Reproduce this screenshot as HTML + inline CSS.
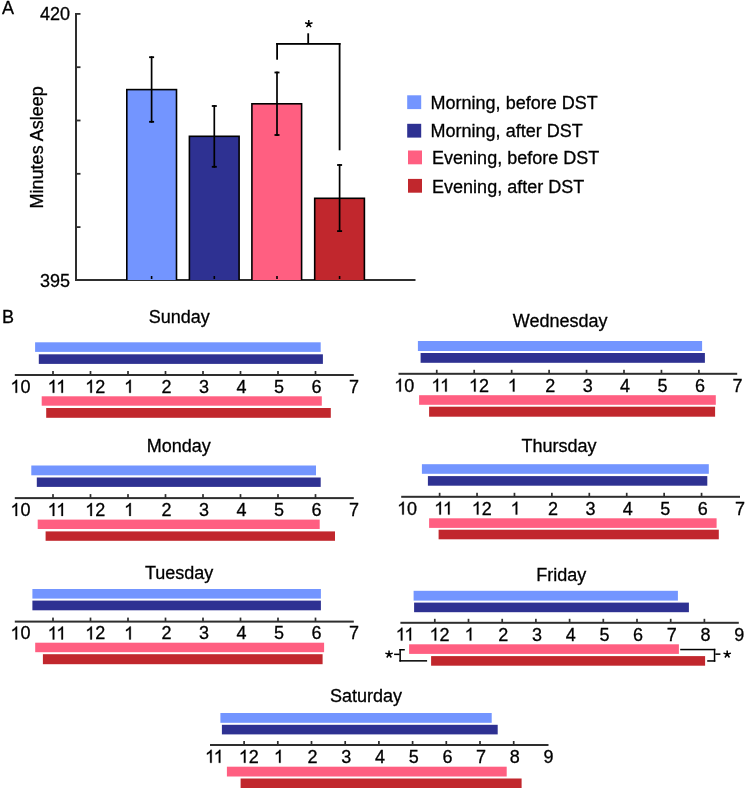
<!DOCTYPE html>
<html><head><meta charset="utf-8"><title>Sleep DST figure</title>
<style>html,body{margin:0;padding:0;background:#fff;}svg{display:block;will-change:transform;}text{stroke:#000;stroke-width:0.3px;}</style></head>
<body>
<svg width="746" height="790" viewBox="0 0 746 790" font-family="Liberation Sans, sans-serif" font-size="18" fill="#000">
<rect x="0" y="0" width="746" height="790" fill="#fff"/>
<text x="2.00" y="14.00">A</text>
<text x="40.00" y="20.00">420</text>
<text x="40.00" y="286.90">395</text>
<text transform="translate(43.1,208.4) rotate(-90)">Minutes Asleep</text>
<rect x="75.00" y="13.00" width="2.00" height="268.00" fill="#2E2E2E"/>
<rect x="75.00" y="13.00" width="5.50" height="1.80" fill="#2E2E2E"/>
<rect x="75.00" y="66.30" width="5.50" height="1.80" fill="#2E2E2E"/>
<rect x="75.00" y="119.60" width="5.50" height="1.80" fill="#2E2E2E"/>
<rect x="75.00" y="172.90" width="5.50" height="1.80" fill="#2E2E2E"/>
<rect x="75.00" y="226.20" width="5.50" height="1.80" fill="#2E2E2E"/>
<rect x="75.00" y="279.00" width="340.50" height="2.00" fill="#2E2E2E"/>
<rect x="126.00" y="88.80" width="51.30" height="191.20" fill="#000"/>
<rect x="127.60" y="90.40" width="48.10" height="189.60" fill="#7395FF"/>
<rect x="150.80" y="276.00" width="1.60" height="3.00" fill="#000"/>
<rect x="150.75" y="56.30" width="1.70" height="66.40" fill="#000"/>
<rect x="149.10" y="56.30" width="5.00" height="1.80" fill="#000"/>
<rect x="149.10" y="120.90" width="5.00" height="1.80" fill="#000"/>
<rect x="188.60" y="135.50" width="51.30" height="144.50" fill="#000"/>
<rect x="190.20" y="137.10" width="48.10" height="142.90" fill="#2E3192"/>
<rect x="213.50" y="276.00" width="1.60" height="3.00" fill="#000"/>
<rect x="213.45" y="105.10" width="1.70" height="62.60" fill="#000"/>
<rect x="211.80" y="105.10" width="5.00" height="1.80" fill="#000"/>
<rect x="211.80" y="165.90" width="5.00" height="1.80" fill="#000"/>
<rect x="251.10" y="103.00" width="51.30" height="177.00" fill="#000"/>
<rect x="252.70" y="104.60" width="48.10" height="175.40" fill="#FF5F81"/>
<rect x="276.20" y="276.00" width="1.60" height="3.00" fill="#000"/>
<rect x="276.15" y="71.60" width="1.70" height="64.30" fill="#000"/>
<rect x="274.50" y="71.60" width="5.00" height="1.80" fill="#000"/>
<rect x="274.50" y="134.10" width="5.00" height="1.80" fill="#000"/>
<rect x="313.90" y="197.50" width="51.30" height="82.50" fill="#000"/>
<rect x="315.50" y="199.10" width="48.10" height="80.90" fill="#C1272D"/>
<rect x="338.80" y="276.00" width="1.60" height="3.00" fill="#000"/>
<rect x="338.75" y="164.10" width="1.70" height="67.90" fill="#000"/>
<rect x="337.10" y="164.10" width="5.00" height="1.80" fill="#000"/>
<rect x="337.10" y="230.20" width="5.00" height="1.80" fill="#000"/>
<rect x="276.20" y="43.00" width="64.30" height="1.80" fill="#000"/>
<rect x="276.20" y="43.00" width="1.80" height="16.70" fill="#000"/>
<rect x="338.70" y="43.00" width="1.80" height="107.30" fill="#000"/>
<rect x="307.30" y="33.30" width="1.80" height="10.00" fill="#000"/>
<path d="M308.80 24.00L308.80 20.10M308.80 24.00L312.51 22.79M308.80 24.00L311.09 27.16M308.80 24.00L306.51 27.16M308.80 24.00L305.09 22.79" stroke="#000" stroke-width="1.5" fill="none"/>
<rect x="407.20" y="95.30" width="14.00" height="13.80" fill="#7395FF"/>
<text x="430.60" y="109.00">Morning, before DST</text>
<rect x="407.20" y="123.80" width="14.00" height="13.80" fill="#2E3192"/>
<text x="430.60" y="136.60">Morning, after DST</text>
<rect x="408.00" y="150.50" width="14.00" height="13.80" fill="#FF5F81"/>
<text x="432.10" y="164.10">Evening, before DST</text>
<rect x="408.00" y="178.90" width="14.00" height="13.80" fill="#C1272D"/>
<text x="432.10" y="192.60">Evening, after DST</text>
<text x="2.00" y="322.80">B</text>
<text x="148.70" y="323.10">Sunday</text>
<rect x="14.80" y="374.00" width="339.00" height="2.00" fill="#2E2E2E"/>
<rect x="52.15" y="371.00" width="1.70" height="4.00" fill="#2E2E2E"/>
<rect x="89.65" y="371.00" width="1.70" height="4.00" fill="#2E2E2E"/>
<rect x="127.15" y="371.00" width="1.70" height="4.00" fill="#2E2E2E"/>
<rect x="164.65" y="371.00" width="1.70" height="4.00" fill="#2E2E2E"/>
<rect x="202.15" y="371.00" width="1.70" height="4.00" fill="#2E2E2E"/>
<rect x="239.65" y="371.00" width="1.70" height="4.00" fill="#2E2E2E"/>
<rect x="277.15" y="371.00" width="1.70" height="4.00" fill="#2E2E2E"/>
<rect x="314.65" y="371.00" width="1.70" height="4.00" fill="#2E2E2E"/>
<path transform="translate(10.40,392.80) scale(0.008789,-0.008789)" stroke="#000" stroke-width="34.1" d="M763 0L583 0L583 1147Q518 1085 412 1023Q306 961 222 930L222 1104Q373 1175 486 1276Q599 1377 646 1472L763 1472Z"/>
<text x="20.41" y="392.80">0</text>
<path transform="translate(47.60,392.80) scale(0.008789,-0.008789)" stroke="#000" stroke-width="34.1" d="M763 0L583 0L583 1147Q518 1085 412 1023Q306 961 222 930L222 1104Q373 1175 486 1276Q599 1377 646 1472L763 1472Z"/>
<path transform="translate(56.27,392.80) scale(0.008789,-0.008789)" stroke="#000" stroke-width="34.1" d="M763 0L583 0L583 1147Q518 1085 412 1023Q306 961 222 930L222 1104Q373 1175 486 1276Q599 1377 646 1472L763 1472Z"/>
<path transform="translate(85.20,392.80) scale(0.008789,-0.008789)" stroke="#000" stroke-width="34.1" d="M763 0L583 0L583 1147Q518 1085 412 1023Q306 961 222 930L222 1104Q373 1175 486 1276Q599 1377 646 1472L763 1472Z"/>
<text x="95.21" y="392.80">2</text>
<path transform="translate(124.09,392.80) scale(0.008789,-0.008789)" stroke="#000" stroke-width="34.1" d="M763 0L583 0L583 1147Q518 1085 412 1023Q306 961 222 930L222 1104Q373 1175 486 1276Q599 1377 646 1472L763 1472Z"/>
<text x="161.59" y="392.80">2</text>
<text x="199.09" y="392.80">3</text>
<text x="236.59" y="392.80">4</text>
<text x="274.10" y="392.80">5</text>
<text x="311.60" y="392.80">6</text>
<text x="349.10" y="392.80">7</text>
<rect x="35.10" y="342.30" width="285.60" height="9.60" fill="#7395FF"/>
<rect x="38.80" y="354.30" width="284.10" height="9.60" fill="#2E3192"/>
<rect x="41.70" y="396.30" width="280.10" height="9.40" fill="#FF5F81"/>
<rect x="46.20" y="408.00" width="284.60" height="9.80" fill="#C1272D"/>
<text x="146.80" y="452.20">Monday</text>
<rect x="14.80" y="497.10" width="339.00" height="2.00" fill="#2E2E2E"/>
<rect x="52.15" y="494.10" width="1.70" height="4.00" fill="#2E2E2E"/>
<rect x="89.65" y="494.10" width="1.70" height="4.00" fill="#2E2E2E"/>
<rect x="127.15" y="494.10" width="1.70" height="4.00" fill="#2E2E2E"/>
<rect x="164.65" y="494.10" width="1.70" height="4.00" fill="#2E2E2E"/>
<rect x="202.15" y="494.10" width="1.70" height="4.00" fill="#2E2E2E"/>
<rect x="239.65" y="494.10" width="1.70" height="4.00" fill="#2E2E2E"/>
<rect x="277.15" y="494.10" width="1.70" height="4.00" fill="#2E2E2E"/>
<rect x="314.65" y="494.10" width="1.70" height="4.00" fill="#2E2E2E"/>
<path transform="translate(10.40,515.90) scale(0.008789,-0.008789)" stroke="#000" stroke-width="34.1" d="M763 0L583 0L583 1147Q518 1085 412 1023Q306 961 222 930L222 1104Q373 1175 486 1276Q599 1377 646 1472L763 1472Z"/>
<text x="20.41" y="515.90">0</text>
<path transform="translate(47.60,515.90) scale(0.008789,-0.008789)" stroke="#000" stroke-width="34.1" d="M763 0L583 0L583 1147Q518 1085 412 1023Q306 961 222 930L222 1104Q373 1175 486 1276Q599 1377 646 1472L763 1472Z"/>
<path transform="translate(56.27,515.90) scale(0.008789,-0.008789)" stroke="#000" stroke-width="34.1" d="M763 0L583 0L583 1147Q518 1085 412 1023Q306 961 222 930L222 1104Q373 1175 486 1276Q599 1377 646 1472L763 1472Z"/>
<path transform="translate(85.20,515.90) scale(0.008789,-0.008789)" stroke="#000" stroke-width="34.1" d="M763 0L583 0L583 1147Q518 1085 412 1023Q306 961 222 930L222 1104Q373 1175 486 1276Q599 1377 646 1472L763 1472Z"/>
<text x="95.21" y="515.90">2</text>
<path transform="translate(124.09,515.90) scale(0.008789,-0.008789)" stroke="#000" stroke-width="34.1" d="M763 0L583 0L583 1147Q518 1085 412 1023Q306 961 222 930L222 1104Q373 1175 486 1276Q599 1377 646 1472L763 1472Z"/>
<text x="161.59" y="515.90">2</text>
<text x="199.09" y="515.90">3</text>
<text x="236.59" y="515.90">4</text>
<text x="274.10" y="515.90">5</text>
<text x="311.60" y="515.90">6</text>
<text x="349.10" y="515.90">7</text>
<rect x="31.30" y="465.50" width="284.70" height="9.80" fill="#7395FF"/>
<rect x="36.80" y="477.50" width="283.90" height="9.40" fill="#2E3192"/>
<rect x="37.70" y="519.60" width="282.00" height="9.40" fill="#FF5F81"/>
<rect x="45.60" y="531.40" width="289.40" height="9.40" fill="#C1272D"/>
<text x="145.00" y="579.30">Tuesday</text>
<rect x="14.80" y="620.60" width="339.00" height="2.00" fill="#2E2E2E"/>
<rect x="52.15" y="617.60" width="1.70" height="4.00" fill="#2E2E2E"/>
<rect x="89.65" y="617.60" width="1.70" height="4.00" fill="#2E2E2E"/>
<rect x="127.15" y="617.60" width="1.70" height="4.00" fill="#2E2E2E"/>
<rect x="164.65" y="617.60" width="1.70" height="4.00" fill="#2E2E2E"/>
<rect x="202.15" y="617.60" width="1.70" height="4.00" fill="#2E2E2E"/>
<rect x="239.65" y="617.60" width="1.70" height="4.00" fill="#2E2E2E"/>
<rect x="277.15" y="617.60" width="1.70" height="4.00" fill="#2E2E2E"/>
<rect x="314.65" y="617.60" width="1.70" height="4.00" fill="#2E2E2E"/>
<path transform="translate(10.40,639.40) scale(0.008789,-0.008789)" stroke="#000" stroke-width="34.1" d="M763 0L583 0L583 1147Q518 1085 412 1023Q306 961 222 930L222 1104Q373 1175 486 1276Q599 1377 646 1472L763 1472Z"/>
<text x="20.41" y="639.40">0</text>
<path transform="translate(47.60,639.40) scale(0.008789,-0.008789)" stroke="#000" stroke-width="34.1" d="M763 0L583 0L583 1147Q518 1085 412 1023Q306 961 222 930L222 1104Q373 1175 486 1276Q599 1377 646 1472L763 1472Z"/>
<path transform="translate(56.27,639.40) scale(0.008789,-0.008789)" stroke="#000" stroke-width="34.1" d="M763 0L583 0L583 1147Q518 1085 412 1023Q306 961 222 930L222 1104Q373 1175 486 1276Q599 1377 646 1472L763 1472Z"/>
<path transform="translate(85.20,639.40) scale(0.008789,-0.008789)" stroke="#000" stroke-width="34.1" d="M763 0L583 0L583 1147Q518 1085 412 1023Q306 961 222 930L222 1104Q373 1175 486 1276Q599 1377 646 1472L763 1472Z"/>
<text x="95.21" y="639.40">2</text>
<path transform="translate(124.09,639.40) scale(0.008789,-0.008789)" stroke="#000" stroke-width="34.1" d="M763 0L583 0L583 1147Q518 1085 412 1023Q306 961 222 930L222 1104Q373 1175 486 1276Q599 1377 646 1472L763 1472Z"/>
<text x="161.59" y="639.40">2</text>
<text x="199.09" y="639.40">3</text>
<text x="236.59" y="639.40">4</text>
<text x="274.10" y="639.40">5</text>
<text x="311.60" y="639.40">6</text>
<text x="349.10" y="639.40">7</text>
<rect x="32.40" y="589.00" width="288.50" height="9.60" fill="#7395FF"/>
<rect x="32.40" y="600.60" width="288.50" height="9.70" fill="#2E3192"/>
<rect x="35.20" y="642.70" width="288.90" height="9.50" fill="#FF5F81"/>
<rect x="42.90" y="654.20" width="279.70" height="10.00" fill="#C1272D"/>
<text x="512.80" y="327.10">Wednesday</text>
<rect x="398.50" y="372.80" width="338.70" height="2.00" fill="#2E2E2E"/>
<rect x="435.90" y="369.80" width="1.70" height="4.00" fill="#2E2E2E"/>
<rect x="473.35" y="369.80" width="1.70" height="4.00" fill="#2E2E2E"/>
<rect x="510.80" y="369.80" width="1.70" height="4.00" fill="#2E2E2E"/>
<rect x="548.25" y="369.80" width="1.70" height="4.00" fill="#2E2E2E"/>
<rect x="585.70" y="369.80" width="1.70" height="4.00" fill="#2E2E2E"/>
<rect x="623.15" y="369.80" width="1.70" height="4.00" fill="#2E2E2E"/>
<rect x="660.60" y="369.80" width="1.70" height="4.00" fill="#2E2E2E"/>
<rect x="698.05" y="369.80" width="1.70" height="4.00" fill="#2E2E2E"/>
<path transform="translate(394.20,391.60) scale(0.008789,-0.008789)" stroke="#000" stroke-width="34.1" d="M763 0L583 0L583 1147Q518 1085 412 1023Q306 961 222 930L222 1104Q373 1175 486 1276Q599 1377 646 1472L763 1472Z"/>
<text x="404.21" y="391.60">0</text>
<path transform="translate(431.35,391.60) scale(0.008789,-0.008789)" stroke="#000" stroke-width="34.1" d="M763 0L583 0L583 1147Q518 1085 412 1023Q306 961 222 930L222 1104Q373 1175 486 1276Q599 1377 646 1472L763 1472Z"/>
<path transform="translate(440.02,391.60) scale(0.008789,-0.008789)" stroke="#000" stroke-width="34.1" d="M763 0L583 0L583 1147Q518 1085 412 1023Q306 961 222 930L222 1104Q373 1175 486 1276Q599 1377 646 1472L763 1472Z"/>
<path transform="translate(468.90,391.60) scale(0.008789,-0.008789)" stroke="#000" stroke-width="34.1" d="M763 0L583 0L583 1147Q518 1085 412 1023Q306 961 222 930L222 1104Q373 1175 486 1276Q599 1377 646 1472L763 1472Z"/>
<text x="478.91" y="391.60">2</text>
<path transform="translate(507.75,391.60) scale(0.008789,-0.008789)" stroke="#000" stroke-width="34.1" d="M763 0L583 0L583 1147Q518 1085 412 1023Q306 961 222 930L222 1104Q373 1175 486 1276Q599 1377 646 1472L763 1472Z"/>
<text x="545.20" y="391.60">2</text>
<text x="582.64" y="391.60">3</text>
<text x="620.10" y="391.60">4</text>
<text x="657.55" y="391.60">5</text>
<text x="695.00" y="391.60">6</text>
<text x="732.45" y="391.60">7</text>
<rect x="417.90" y="341.00" width="284.20" height="10.00" fill="#7395FF"/>
<rect x="420.60" y="353.00" width="284.30" height="9.80" fill="#2E3192"/>
<rect x="419.10" y="395.20" width="296.70" height="9.60" fill="#FF5F81"/>
<rect x="429.10" y="406.70" width="286.00" height="10.00" fill="#C1272D"/>
<text x="521.50" y="451.50">Thursday</text>
<rect x="401.20" y="495.80" width="338.80" height="2.00" fill="#2E2E2E"/>
<rect x="438.77" y="492.80" width="1.70" height="4.00" fill="#2E2E2E"/>
<rect x="476.19" y="492.80" width="1.70" height="4.00" fill="#2E2E2E"/>
<rect x="513.61" y="492.80" width="1.70" height="4.00" fill="#2E2E2E"/>
<rect x="551.03" y="492.80" width="1.70" height="4.00" fill="#2E2E2E"/>
<rect x="588.45" y="492.80" width="1.70" height="4.00" fill="#2E2E2E"/>
<rect x="625.87" y="492.80" width="1.70" height="4.00" fill="#2E2E2E"/>
<rect x="663.29" y="492.80" width="1.70" height="4.00" fill="#2E2E2E"/>
<rect x="700.71" y="492.80" width="1.70" height="4.00" fill="#2E2E2E"/>
<path transform="translate(397.10,514.60) scale(0.008789,-0.008789)" stroke="#000" stroke-width="34.1" d="M763 0L583 0L583 1147Q518 1085 412 1023Q306 961 222 930L222 1104Q373 1175 486 1276Q599 1377 646 1472L763 1472Z"/>
<text x="407.11" y="514.60">0</text>
<path transform="translate(434.22,514.60) scale(0.008789,-0.008789)" stroke="#000" stroke-width="34.1" d="M763 0L583 0L583 1147Q518 1085 412 1023Q306 961 222 930L222 1104Q373 1175 486 1276Q599 1377 646 1472L763 1472Z"/>
<path transform="translate(442.89,514.60) scale(0.008789,-0.008789)" stroke="#000" stroke-width="34.1" d="M763 0L583 0L583 1147Q518 1085 412 1023Q306 961 222 930L222 1104Q373 1175 486 1276Q599 1377 646 1472L763 1472Z"/>
<path transform="translate(471.74,514.60) scale(0.008789,-0.008789)" stroke="#000" stroke-width="34.1" d="M763 0L583 0L583 1147Q518 1085 412 1023Q306 961 222 930L222 1104Q373 1175 486 1276Q599 1377 646 1472L763 1472Z"/>
<text x="481.75" y="514.60">2</text>
<path transform="translate(510.56,514.60) scale(0.008789,-0.008789)" stroke="#000" stroke-width="34.1" d="M763 0L583 0L583 1147Q518 1085 412 1023Q306 961 222 930L222 1104Q373 1175 486 1276Q599 1377 646 1472L763 1472Z"/>
<text x="547.98" y="514.60">2</text>
<text x="585.39" y="514.60">3</text>
<text x="622.82" y="514.60">4</text>
<text x="660.24" y="514.60">5</text>
<text x="697.65" y="514.60">6</text>
<text x="735.08" y="514.60">7</text>
<rect x="421.90" y="464.20" width="286.90" height="9.60" fill="#7395FF"/>
<rect x="427.90" y="476.10" width="279.40" height="9.60" fill="#2E3192"/>
<rect x="429.10" y="518.30" width="287.50" height="9.60" fill="#FF5F81"/>
<rect x="438.60" y="529.70" width="280.20" height="9.60" fill="#C1272D"/>
<text x="536.30" y="580.60">Friday</text>
<rect x="400.40" y="621.80" width="338.40" height="2.00" fill="#2E2E2E"/>
<rect x="433.95" y="618.80" width="1.70" height="4.00" fill="#2E2E2E"/>
<rect x="467.65" y="618.80" width="1.70" height="4.00" fill="#2E2E2E"/>
<rect x="501.35" y="618.80" width="1.70" height="4.00" fill="#2E2E2E"/>
<rect x="535.05" y="618.80" width="1.70" height="4.00" fill="#2E2E2E"/>
<rect x="568.75" y="618.80" width="1.70" height="4.00" fill="#2E2E2E"/>
<rect x="602.45" y="618.80" width="1.70" height="4.00" fill="#2E2E2E"/>
<rect x="636.15" y="618.80" width="1.70" height="4.00" fill="#2E2E2E"/>
<rect x="669.85" y="618.80" width="1.70" height="4.00" fill="#2E2E2E"/>
<rect x="703.55" y="618.80" width="1.70" height="4.00" fill="#2E2E2E"/>
<path transform="translate(395.70,640.60) scale(0.008789,-0.008789)" stroke="#000" stroke-width="34.1" d="M763 0L583 0L583 1147Q518 1085 412 1023Q306 961 222 930L222 1104Q373 1175 486 1276Q599 1377 646 1472L763 1472Z"/>
<path transform="translate(404.37,640.60) scale(0.008789,-0.008789)" stroke="#000" stroke-width="34.1" d="M763 0L583 0L583 1147Q518 1085 412 1023Q306 961 222 930L222 1104Q373 1175 486 1276Q599 1377 646 1472L763 1472Z"/>
<path transform="translate(429.50,640.60) scale(0.008789,-0.008789)" stroke="#000" stroke-width="34.1" d="M763 0L583 0L583 1147Q518 1085 412 1023Q306 961 222 930L222 1104Q373 1175 486 1276Q599 1377 646 1472L763 1472Z"/>
<text x="439.51" y="640.60">2</text>
<path transform="translate(464.60,640.60) scale(0.008789,-0.008789)" stroke="#000" stroke-width="34.1" d="M763 0L583 0L583 1147Q518 1085 412 1023Q306 961 222 930L222 1104Q373 1175 486 1276Q599 1377 646 1472L763 1472Z"/>
<text x="498.30" y="640.60">2</text>
<text x="532.00" y="640.60">3</text>
<text x="565.70" y="640.60">4</text>
<text x="599.40" y="640.60">5</text>
<text x="633.10" y="640.60">6</text>
<text x="666.80" y="640.60">7</text>
<text x="700.50" y="640.60">8</text>
<text x="734.20" y="640.60">9</text>
<rect x="413.60" y="590.80" width="264.30" height="9.80" fill="#7395FF"/>
<rect x="414.10" y="602.60" width="274.80" height="9.60" fill="#2E3192"/>
<rect x="409.10" y="644.30" width="269.80" height="9.60" fill="#FF5F81"/>
<rect x="431.10" y="656.10" width="274.00" height="9.60" fill="#C1272D"/>
<text x="329.90" y="702.00">Saturday</text>
<rect x="210.00" y="744.00" width="338.50" height="2.00" fill="#2E2E2E"/>
<rect x="243.25" y="741.00" width="1.70" height="4.00" fill="#2E2E2E"/>
<rect x="276.95" y="741.00" width="1.70" height="4.00" fill="#2E2E2E"/>
<rect x="310.65" y="741.00" width="1.70" height="4.00" fill="#2E2E2E"/>
<rect x="344.35" y="741.00" width="1.70" height="4.00" fill="#2E2E2E"/>
<rect x="378.05" y="741.00" width="1.70" height="4.00" fill="#2E2E2E"/>
<rect x="411.75" y="741.00" width="1.70" height="4.00" fill="#2E2E2E"/>
<rect x="445.45" y="741.00" width="1.70" height="4.00" fill="#2E2E2E"/>
<rect x="479.15" y="741.00" width="1.70" height="4.00" fill="#2E2E2E"/>
<rect x="512.85" y="741.00" width="1.70" height="4.00" fill="#2E2E2E"/>
<path transform="translate(205.00,762.80) scale(0.008789,-0.008789)" stroke="#000" stroke-width="34.1" d="M763 0L583 0L583 1147Q518 1085 412 1023Q306 961 222 930L222 1104Q373 1175 486 1276Q599 1377 646 1472L763 1472Z"/>
<path transform="translate(213.67,762.80) scale(0.008789,-0.008789)" stroke="#000" stroke-width="34.1" d="M763 0L583 0L583 1147Q518 1085 412 1023Q306 961 222 930L222 1104Q373 1175 486 1276Q599 1377 646 1472L763 1472Z"/>
<path transform="translate(238.80,762.80) scale(0.008789,-0.008789)" stroke="#000" stroke-width="34.1" d="M763 0L583 0L583 1147Q518 1085 412 1023Q306 961 222 930L222 1104Q373 1175 486 1276Q599 1377 646 1472L763 1472Z"/>
<text x="248.81" y="762.80">2</text>
<path transform="translate(273.90,762.80) scale(0.008789,-0.008789)" stroke="#000" stroke-width="34.1" d="M763 0L583 0L583 1147Q518 1085 412 1023Q306 961 222 930L222 1104Q373 1175 486 1276Q599 1377 646 1472L763 1472Z"/>
<text x="307.60" y="762.80">2</text>
<text x="341.30" y="762.80">3</text>
<text x="375.00" y="762.80">4</text>
<text x="408.70" y="762.80">5</text>
<text x="442.40" y="762.80">6</text>
<text x="476.10" y="762.80">7</text>
<text x="509.80" y="762.80">8</text>
<text x="543.50" y="762.80">9</text>
<rect x="220.40" y="713.00" width="271.30" height="9.80" fill="#7395FF"/>
<rect x="221.90" y="724.80" width="275.80" height="9.60" fill="#2E3192"/>
<rect x="226.90" y="766.70" width="279.80" height="9.80" fill="#FF5F81"/>
<rect x="240.60" y="778.50" width="281.00" height="9.50" fill="#C1272D"/>
<rect x="399.40" y="649.00" width="1.50" height="12.60" fill="#000"/>
<rect x="399.40" y="649.00" width="5.40" height="1.50" fill="#000"/>
<rect x="399.40" y="660.10" width="27.70" height="1.50" fill="#000"/>
<rect x="394.10" y="653.60" width="5.60" height="1.50" fill="#000"/>
<path d="M389.05 654.30L389.05 650.40M389.05 654.30L392.76 653.09M389.05 654.30L391.34 657.46M389.05 654.30L386.76 657.46M389.05 654.30L385.34 653.09" stroke="#000" stroke-width="1.5" fill="none"/>
<rect x="680.20" y="648.80" width="35.10" height="1.50" fill="#000"/>
<rect x="713.80" y="648.80" width="1.50" height="12.90" fill="#000"/>
<rect x="707.20" y="660.20" width="8.10" height="1.50" fill="#000"/>
<rect x="715.30" y="653.40" width="5.10" height="1.50" fill="#000"/>
<path d="M727.20 654.30L727.20 650.40M727.20 654.30L730.91 653.09M727.20 654.30L729.49 657.46M727.20 654.30L724.91 657.46M727.20 654.30L723.49 653.09" stroke="#000" stroke-width="1.5" fill="none"/>
</svg>
</body></html>
